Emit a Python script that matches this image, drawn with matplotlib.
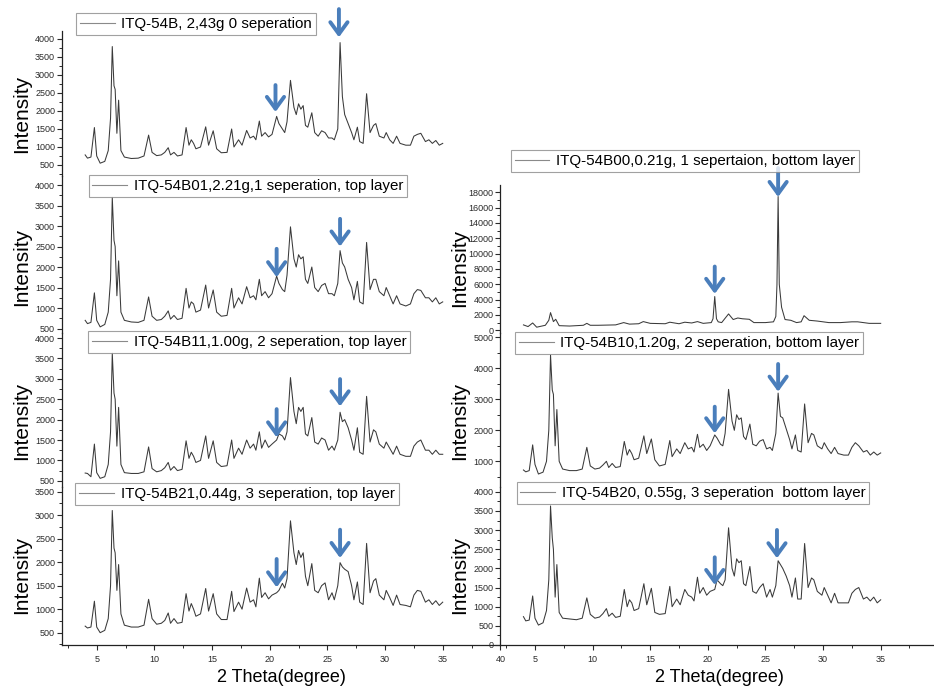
import matplotlib.pyplot as plt
from matplotlib.ticker import MultipleLocator, FuncFormatter

plt.rcParams['font.family'] = ['Liberation Sans', 'DejaVu Sans']

W, H = 934, 687

# common 2-theta grid (degree)
two_theta = [4.0, 4.2, 4.5, 4.8, 5.0, 5.3, 5.7, 6.0, 6.2, 6.35, 6.5, 6.6, 6.75, 6.9, 7.1, 7.4,
             8.0, 8.6, 9.1, 9.5, 9.8, 10.2, 10.6, 10.9, 11.2, 11.4, 11.7, 12.0, 12.4, 12.75,
             13.0, 13.2, 13.4, 13.6, 14.0, 14.45, 14.7, 15.1, 15.4, 15.8, 16.3, 16.7, 16.9,
             17.3, 17.6, 18.0, 18.3, 18.6, 18.8, 19.1, 19.3, 19.6, 19.9, 20.2, 20.6, 20.8,
             21.1, 21.3, 21.5, 21.8, 22.1, 22.3, 22.5, 22.7, 22.9, 23.1, 23.3, 23.65, 23.9,
             24.2, 24.5, 24.8, 25.1, 25.4, 25.6, 25.9, 26.1, 26.3, 26.5, 26.8, 27.1, 27.3,
             27.6, 27.8, 28.1, 28.4, 28.7, 29.0, 29.2, 29.5, 29.9, 30.1, 30.4, 30.7, 31.0,
             31.3, 31.8, 32.2, 32.5, 32.8, 33.1, 33.5, 33.8, 34.1, 34.4, 34.7, 35.0]

b0 = [780, 690, 720, 1540, 750, 550, 600, 900, 1800, 3790, 2700, 2600, 1380, 2300, 900, 720,
      680, 690, 750, 1330, 850, 760, 780, 850, 980, 780, 850, 750, 780, 1540,
      1050, 1200, 1100, 950, 1000, 1560, 1050, 1450, 950, 840, 850, 1500, 1000,
      1200, 1050, 1460, 1250, 1300, 1200, 1720, 1300, 1400, 1280, 1350, 1850, 1650,
      1500, 1400, 1700, 2850, 2100, 1900, 2200, 2050, 2150, 1600, 1550, 1950, 1400,
      1300, 1450, 1400, 1250, 1250, 1200, 1500, 3900, 2400, 1900, 1650, 1400, 1200,
      1550, 1150, 1100, 2480, 1400, 1600, 1650, 1300, 1250, 1400, 1200, 1100, 1300,
      1100, 1050, 1050, 1300, 1350, 1380, 1150, 1200, 1100, 1180, 1050, 1100]

b01 = [700, 620, 650, 1370, 700, 540, 600, 900, 1700, 3700, 2650, 2500, 1300, 2150, 900, 700,
       660, 650, 700, 1270, 800, 700, 720, 800, 930, 730, 820, 720, 750, 1480,
       1000, 1150, 1100, 900, 950, 1560, 1000, 1440, 900, 800, 820, 1480, 1000,
       1250, 1100, 1520, 1250, 1300, 1200, 1700, 1300, 1400, 1250, 1350, 1780, 1600,
       1450, 1400, 1800, 2980, 2200, 2000, 2300, 2200, 2250, 1700, 1600, 2000, 1500,
       1400, 1550, 1600, 1350, 1350, 1300, 1600, 2400, 2100, 2000, 1700, 1500, 1200,
       1650, 1150, 1100, 2600, 1450, 1700, 1700, 1400, 1300, 1500, 1300, 1100, 1300,
       1100, 1050, 1100, 1350, 1450, 1430, 1250, 1250, 1150, 1250, 1100, 1150]

b11 = [690, 680, 600, 1400, 700, 560, 600, 900, 1700, 3630, 2650, 2500, 1350, 2300, 900, 700,
       680, 680, 720, 1330, 800, 720, 750, 820, 950, 760, 850, 750, 780, 1480,
       1050, 1200, 1100, 950, 1000, 1600, 1050, 1480, 950, 850, 870, 1500, 1050,
       1300, 1150, 1500, 1300, 1400, 1250, 1700, 1300, 1500, 1320, 1400, 1500, 1650,
       1600, 1500, 1700, 3030, 2200, 1900, 2300, 2200, 2300, 1650, 1600, 2050, 1450,
       1400, 1550, 1500, 1250, 1350, 1250, 1500, 2180, 1950, 2000, 1800, 1500, 1250,
       1800, 1200, 1150, 2570, 1450, 1750, 1700, 1400, 1300, 1450, 1300, 1150, 1350,
       1150, 1100, 1100, 1350, 1450, 1500, 1250, 1250, 1150, 1250, 1150, 1150]

b21 = [640, 600, 620, 1170, 620, 500, 550, 800, 1500, 3100, 2300, 2200, 1400, 1950, 900, 660,
       620, 620, 660, 1210, 800, 680, 700, 760, 920, 700, 800, 700, 720, 1330,
       960, 1120, 1000, 850, 900, 1440, 960, 1330, 900, 780, 780, 1380, 950,
       1150, 1000, 1450, 1150, 1200, 1050, 1660, 1250, 1350, 1220, 1300, 1350, 1400,
       1550, 1450, 1650, 2880, 2200, 1950, 2250, 2100, 2200, 1700, 1500, 1970, 1400,
       1350, 1500, 1560, 1200, 1350, 1200, 1500, 1990, 1900, 1850, 1800, 1500, 1200,
       1580, 1150, 1100, 2400, 1350, 1600, 1650, 1300, 1200, 1400, 1250, 1080, 1300,
       1100, 1080, 1050, 1300, 1400, 1380, 1150, 1200, 1100, 1180, 1080, 1150]

b10 = [720, 660, 700, 1530, 900, 590, 650, 1000, 2000, 4430, 3300, 3160, 1500, 2670, 1000, 750,
       700, 700, 750, 1450, 850, 750, 780, 880, 1000, 800, 930, 800, 830, 1640,
       1200, 1380, 1250, 1050, 1100, 1820, 1250, 1720, 1050, 850, 900, 1670, 1150,
       1400, 1250, 1600, 1400, 1450, 1300, 1870, 1450, 1550, 1350, 1500, 1850, 1750,
       1550, 1500, 1900, 3320, 2300, 2000, 2500, 2350, 2400, 1800, 1700, 2200, 1550,
       1500, 1650, 1700, 1400, 1450, 1350, 1900, 3200, 2450, 2400, 2050, 1700, 1400,
       1850, 1350, 1300, 2850, 1600, 1900, 1850, 1500, 1400, 1600, 1400, 1250, 1450,
       1250, 1200, 1200, 1450, 1600, 1500, 1300, 1350, 1200, 1300, 1200, 1270]

b20 = [740, 630, 650, 1280, 700, 520, 580, 900, 1700, 3630, 2800, 2500, 1250, 2100, 850, 700,
       680, 660, 700, 1230, 800, 700, 730, 820, 950, 750, 830, 720, 750, 1450,
       1000, 1180, 1100, 900, 950, 1600, 1050, 1480, 850, 800, 820, 1530, 1000,
       1200, 1050, 1450, 1300, 1250, 1150, 1770, 1350, 1500, 1300, 1400, 1450, 1700,
       1600, 1550, 1700, 3060, 2000, 1800, 2250, 2150, 2200, 1600, 1550, 2050, 1400,
       1350, 1500, 1600, 1250, 1450, 1250, 1550, 2200, 2100, 2000, 1800, 1550, 1250,
       1750, 1200, 1200, 2650, 1500, 1750, 1700, 1400, 1300, 1500, 1300, 1100, 1350,
       1100, 1100, 1100, 1350, 1450, 1500, 1200, 1250, 1150, 1250, 1100, 1180]

# bottom-layer sample after 1 separation has its own grid
tt_b00 = [4.0, 4.4, 4.8, 5.15, 5.9, 6.2, 6.35, 6.6, 6.8, 7.1, 8.0, 9.2, 9.5, 9.8, 10.5, 12.0,
          12.7, 13.2, 14.0, 14.4, 15.0, 16.3, 16.7, 17.5, 18.0, 18.6, 19.1, 19.6, 20.3,
          20.45, 20.6, 20.75, 20.9, 21.2, 21.8, 22.2, 22.6, 23.0, 23.6, 24.0, 25.0, 25.7,
          25.9, 26.0, 26.1, 26.2, 26.4, 26.7, 27.2, 27.7, 28.1, 28.35, 28.8, 29.5, 30.5,
          31.5, 32.5, 33.0, 34.0, 35.0]
b00 = [700, 480, 950, 400, 650, 1300, 2300, 1130, 1430, 600, 550, 650, 900, 650, 650, 700,
       1000, 800, 850, 1130, 900, 850, 1050, 850, 1050, 950, 1130, 900, 1000,
       1500, 4400, 1500, 1100, 1000, 2130, 1400, 1600, 1500, 1430, 1000, 1000, 1100,
       1800, 6000, 17450, 6000, 3000, 1400, 1300, 1000, 1100, 1900, 1300, 1200, 1000,
       1000, 1100, 1100, 900, 900]

labels = ['ITQ-54B, 2,43g 0 seperation',
          'ITQ-54B01,2.21g,1 seperation, top layer',
          'ITQ-54B11,1.00g, 2 seperation, top layer',
          'ITQ-54B21,0.44g, 3 seperation, top layer',
          'ITQ-54B00,0.21g, 1 sepertaion, bottom layer',
          'ITQ-54B10,1.20g, 2 seperation, bottom layer',
          'ITQ-54B20, 0.55g, 3 seperation  bottom layer']

# arrows: (2theta, tip intensity, tail intensity)
arrows = [[(20.5, 1972, 2720), (26.0, 4047, 4830)],
          [(20.6, 1751, 2444), (26.1, 2500, 3175)],
          [(20.6, 1564, 2257), (26.1, 2324, 2993)],
          [(20.6, 1464, 2068), (26.1, 2089, 2691)],
          [(20.6, 4745, 8313), (26.1, 17385, 21170)],
          [(20.6, 1903, 2761), (26.1, 3245, 4139)],
          [(20.6, 1566, 2290), (26.0, 2264, 3003)]]

# layout in pixels: (left, width, top, bottom)
LX, LW = 62.1, 438.3
RX, RW = 500.4, 437.9
panels = [
    (two_theta, b0, (LX, LW, 31, 176), (194, 4222), 500, 250, False, (196, 24), 114),
    (two_theta, b01, (LX, LW, 176, 333), (391, 4220), 500, 250, False, (248, 186), 267),
    (two_theta, b11, (LX, LW, 333, 487), (348, 4123), 500, 250, False, (249, 342), 421),
    (two_theta, b21, (LX, LW, 487, 645), (238, 3600), 500, 250, True, (237, 494), 575),
    (tt_b00, b00, (RX, RW, 185, 333), (-358, 18952), 2000, 1000, False, (685, 161), 268),
    (two_theta, b10, (RX, RW, 333, 487), (171, 5139), 1000, 500, False, (689, 343), 421),
    (two_theta, b20, (RX, RW, 487, 645), (0, 4125), 500, 250, True, (693, 493), 575),
]

fig = plt.figure(figsize=(W / 100, H / 100), dpi=100)
tick_col = '#2a2a2a'

for i, (xs, ys, (x0, w, yt, yb), ylim, major, minor, bottom, leg_c, ylab_y) in enumerate(panels):
    ax = fig.add_axes([x0 / W, 1 - yb / H, w / W, (yb - yt) / H])
    ax.patch.set_alpha(0)
    line, = ax.plot(xs, ys, color='#3a3a3a', lw=0.75, label=labels[i])
    ax.set_xlim(2, 40)
    ax.set_ylim(*ylim)
    ax.yaxis.set_major_locator(MultipleLocator(major))
    ax.yaxis.set_minor_locator(MultipleLocator(minor))
    ax.xaxis.set_major_locator(MultipleLocator(5))
    ax.xaxis.set_minor_locator(MultipleLocator(2.5))
    for s in ['top', 'right']:
        ax.spines[s].set_visible(False)
    ax.spines['left'].set_color('#222222')
    ax.spines['left'].set_linewidth(0.9)
    ax.tick_params(axis='both', which='major', direction='out', length=3.5, width=0.8,
                   colors=tick_col, labelsize=6.5, pad=1.5)
    ax.tick_params(axis='both', which='minor', direction='out', length=2, width=0.7,
                   colors=tick_col)
    if bottom:
        ax.spines['bottom'].set_color('#222222')
        ax.spines['bottom'].set_linewidth(0.9)
        ax.tick_params(axis='x', which='major', pad=4)
        if x0 > 100:
            # the 40 label of the right panel falls outside the picture
            ax.xaxis.set_major_formatter(FuncFormatter(lambda v, p: '' if v > 37 else '%d' % v))
    else:
        ax.spines['bottom'].set_visible(False)
        ax.tick_params(axis='x', which='both', bottom=False, labelbottom=False)

    leg = ax.legend(handles=[line], loc='center',
                    bbox_to_anchor=(leg_c[0] / W, 1 - leg_c[1] / H),
                    bbox_transform=fig.transFigure, fontsize=10.9, frameon=True,
                    fancybox=False, edgecolor='#8a8a8a', borderpad=0.25,
                    handlelength=2.3, handletextpad=0.45, borderaxespad=0)
    leg.get_frame().set_linewidth(0.8)
    leg.legend_handles[0].set_color('#8a8a8a')
    leg.legend_handles[0].set_linewidth(0.8)

    for (ax_x, tip, tail) in arrows[i]:
        ax.annotate('', xy=(ax_x, tip), xytext=(ax_x, tail), annotation_clip=False,
                    arrowprops=dict(arrowstyle='->,head_length=0.85,head_width=0.62',
                                    color='#4a7ebb', lw=2.8, shrinkA=0, shrinkB=0,
                                    mutation_scale=10))

    col_x = 22 if x0 < 100 else 460
    fig.text(col_x / W, 1 - ylab_y / H, 'Intensity', rotation=90, ha='center',
             va='center', fontsize=15)

fig.text(281.7 / W, 1 - 677 / H, '2 Theta(degree)', ha='center', va='center', fontsize=13)
fig.text(719 / W, 1 - 677 / H, '2 Theta(degree)', ha='center', va='center', fontsize=13)

fig.savefig('out.png', dpi=100)
